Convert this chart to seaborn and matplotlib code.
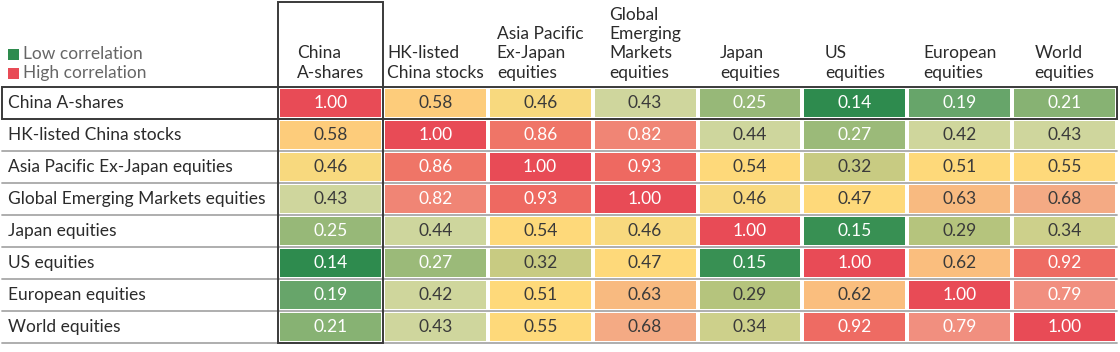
import numpy as np
import pandas as pd
import seaborn as sns
import matplotlib
matplotlib.use("Agg")
import matplotlib.pyplot as plt
from matplotlib.colors import LinearSegmentedColormap
from matplotlib.patches import Rectangle
from matplotlib.transforms import blended_transform_factory

row_labels = ["China A-shares", "HK-listed China stocks", "Asia Pacific Ex-Japan equities",
              "Global Emerging Markets equities", "Japan equities", "US equities",
              "European equities", "World equities"]
col_labels = ["China\nA-shares", "HK-listed\nChina stocks", "Asia Pacific\nEx-Japan\nequities",
              "Global\nEmerging\nMarkets\nequities", "Japan\nequities", "US\nequities",
              "European\nequities", "World\nequities"]
values = [
    [1.00, 0.58, 0.46, 0.43, 0.25, 0.14, 0.19, 0.21],
    [0.58, 1.00, 0.86, 0.82, 0.44, 0.27, 0.42, 0.43],
    [0.46, 0.86, 1.00, 0.93, 0.54, 0.32, 0.51, 0.55],
    [0.43, 0.82, 0.93, 1.00, 0.46, 0.47, 0.63, 0.68],
    [0.25, 0.44, 0.54, 0.46, 1.00, 0.15, 0.29, 0.34],
    [0.14, 0.27, 0.32, 0.47, 0.15, 1.00, 0.62, 0.92],
    [0.19, 0.42, 0.51, 0.63, 0.29, 0.62, 1.00, 0.79],
    [0.21, 0.43, 0.55, 0.68, 0.34, 0.92, 0.79, 1.00],
]
legend_labels = ["Low correlation", "High correlation"]

df = pd.DataFrame(values, index=row_labels, columns=col_labels)

sns.set_style("white")
plt.rcParams["font.family"] = ["Lato", "DejaVu Sans"]
FS = 12.5

stops = [(0.00, "#2E8B4E"), (0.14, "#2E8B4E"), (0.18, "#5A9F66"), (0.21, "#8AB474"),
         (0.25, "#97B878"), (0.275, "#9CBA79"), (0.30, "#C5CA80"), (0.33, "#CACC84"),
         (0.36, "#D2D698"), (0.45, "#CED69E"), (0.46, "#FED97A"), (0.555, "#FED97A"),
         (0.59, "#FDC77B"), (0.65, "#F6B482"), (0.70, "#F3A585"), (0.79, "#F19080"),
         (0.86, "#EF7567"), (0.93, "#EE6A62"), (1.00, "#E84B56")]
cmap = LinearSegmentedColormap.from_list("corr", stops)

fig = plt.figure(figsize=(11.2, 3.52), dpi=100)
W, H = 1120, 352
x0, x1, y0, y1 = 278, 1117, 87, 343
ax = fig.add_axes([x0 / W, 1 - y1 / H, (x1 - x0) / W, (y1 - y0) / H])

sns.heatmap(df, ax=ax, cmap=cmap, vmin=0, vmax=1, cbar=False, annot=True, fmt=".2f",
            linewidths=1.5, linecolor="white",
            annot_kws={"fontsize": FS, "fontfamily": ["Lato", "DejaVu Sans"]})
ax.set_xticks([])
ax.set_yticks([])
ax.set_xlabel("")
ax.set_ylabel("")

nrows, ncols = df.shape
flat = df.values.flatten()
for t, v in zip(ax.texts, flat):
    t.set_color("white" if (v <= 0.27 or v >= 0.75) else "#3a3a3a")

# header labels
for j, lab in enumerate(col_labels):
    ax.text(j + 0.5, -0.2, lab, ha="center", va="bottom", multialignment="left",
            fontsize=FS, color="#2b2b2b", linespacing=1.24, clip_on=False)

# row labels
bt = blended_transform_factory(fig.transFigure, ax.transData)
for i, lab in enumerate(row_labels):
    ax.text(8 / W, i + 0.5, lab, transform=bt, ha="left", va="center",
            fontsize=FS, color="#2b2b2b", clip_on=False)

# horizontal row separators
for i in range(1, nrows + 1):
    ax.plot([2 / W, x1 / W], [i, i], transform=bt, color="#a8a8a8", lw=1.3,
            clip_on=False, zorder=5)

# box around China A-shares column
col_top = -(y0 - 2) / ((y1 - y0) / nrows)
ax.add_patch(Rectangle((0, col_top), 1, nrows - col_top, fill=False, edgecolor="#3a3a3a",
                       lw=1.4, clip_on=False, zorder=6))
# box around China A-shares row
left_data = -(x0 - 2) / ((x1 - x0) / ncols)
ax.add_patch(Rectangle((left_data, 0), ncols - left_data, 1, fill=False,
                       edgecolor="#3a3a3a", lw=1.4, clip_on=False, zorder=6))

# legend
for k, (lab, val) in enumerate(zip(legend_labels, [0.14, 1.0])):
    yc = 54 + k * 19
    fig.add_artist(Rectangle((8 / W, 1 - (yc + 5.5) / H), 11 / W, 11 / H,
                             transform=fig.transFigure, facecolor=cmap(val), edgecolor="none"))
    fig.text(23 / W, 1 - yc / H, lab, ha="left", va="center", fontsize=FS, color="#666666")

fig.savefig("out.png", dpi=100)
